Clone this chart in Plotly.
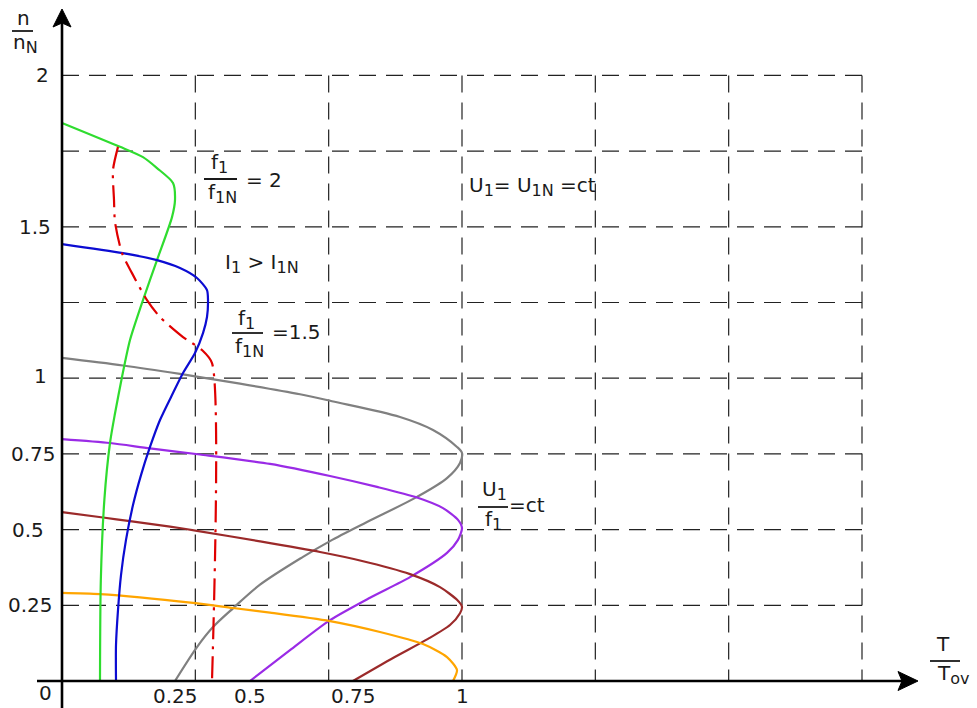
import plotly.graph_objects as go

# ---------------------------------------------------------------------------
# Mechanical characteristics n/nN = f(T/Tov) of an induction motor under
# frequency control (U1/f1 = ct below nominal speed, U1 = U1N above it).
# ---------------------------------------------------------------------------

# f1 = f1N  (grey)
gray_T = [0.0, 0.1525, 0.295, 0.445, 0.595, 0.675, 0.845, 0.9275, 0.9875, 1.0,
          0.995, 0.9625, 0.8875, 0.7625, 0.67, 0.6025, 0.495, 0.4275, 0.3775,
          0.3375, 0.2825]
gray_n = [1.067, 1.042, 1.014, 0.982, 0.947, 0.924, 0.872, 0.829, 0.773, 0.753,
          0.720, 0.670, 0.608, 0.525, 0.462, 0.410, 0.318, 0.240, 0.178,
          0.112, 0.0]

# purple
purple_T = [0.0, 0.12, 0.22, 0.345, 0.52, 0.67, 0.7875, 0.8875, 0.9525, 0.99,
            1.0, 0.99, 0.9625, 0.87, 0.77, 0.67, 0.57, 0.47]
purple_n = [0.799, 0.786, 0.768, 0.748, 0.717, 0.677, 0.641, 0.606, 0.571, 0.532,
            0.505, 0.466, 0.423, 0.343, 0.275, 0.201, 0.102, 0.0]

# brown
brown_T = [0.0, 0.1025, 0.17, 0.27, 0.3375, 0.495, 0.645, 0.745, 0.87, 0.945,
           0.9875, 1.0, 0.995, 0.97, 0.915, 0.8275, 0.7275]
brown_n = [0.558, 0.540, 0.528, 0.510, 0.496, 0.461, 0.426, 0.398, 0.353, 0.310,
           0.268, 0.245, 0.224, 0.185, 0.139, 0.076, 0.0]

# orange
orange_T = [0.0, 0.095, 0.3275, 0.4275, 0.52, 0.67, 0.795, 0.9025, 0.9625,
            0.9875, 0.9775]
orange_n = [0.291, 0.287, 0.258, 0.241, 0.226, 0.198, 0.162, 0.122, 0.079,
            0.036, 0.0]

# f1/f1N = 2  (green)
green_T = [0.0, 0.145, 0.2025, 0.2375, 0.2775, 0.2825, 0.275, 0.2375, 0.2025,
           0.17, 0.15, 0.132, 0.12, 0.106, 0.097, 0.095]
green_n = [1.843, 1.764, 1.730, 1.694, 1.645, 1.589, 1.532, 1.390, 1.258,
           1.126, 1.004, 0.880, 0.786, 0.600, 0.330, 0.0]

# f1/f1N = 1.5  (blue)
blue_T = [0.0, 0.1525, 0.2375, 0.295, 0.3375, 0.3625, 0.365, 0.3625, 0.3525,
          0.3325, 0.3025, 0.2775, 0.245, 0.22, 0.1975, 0.1775, 0.16, 0.1475,
          0.14, 0.135, 0.135]
blue_n = [1.443, 1.413, 1.390, 1.364, 1.331, 1.291, 1.258, 1.202, 1.149,
          1.083, 1.017, 0.951, 0.862, 0.773, 0.680, 0.581, 0.466, 0.350,
          0.234, 0.119, 0.0]

# current limit I1 > I1N  (red dash-dot)
limit_T = [0.14, 0.1275, 0.13, 0.1325, 0.15, 0.175, 0.2125, 0.245, 0.3025,
           0.35, 0.375, 0.375]
limit_n = [1.764, 1.688, 1.589, 1.516, 1.413, 1.347, 1.258, 1.202, 1.136,
           1.093, 1.050, 0.0]

# Tick labels
y_tick_vals = [2, 1.5, 1, 0.75, 0.5, 0.25]
y_tick_text = ["2", "1.5", "1", "0.75", "0.5", "0.25"]
x_tick_text = ["0.25", "0.5", "0.75", "1"]
# dashed grid
grid_x = [1 / 3, 2 / 3, 1.0, 4 / 3, 5 / 3, 2.0]
grid_y = [0.25, 0.5, 0.75, 1.0, 1.25, 1.5, 1.75, 2.0]

# ---------------------------------------------------------------------------
W, H = 977, 708
X0_PX, Y0_PX = 62, 681          # pixel position of the origin
PX_PER_X, PX_PER_Y = 400.0, 302.8


def dx(px):
    return (px - X0_PX) / PX_PER_X


def dy(py):
    return (Y0_PX - py) / PX_PER_Y


FONT = "DejaVu Sans"
TXT = "#1a1a1a"
FS = 20


def sub(s):
    return f"<sub><span style='font-size:{FS - 4}px'>{s}</span></sub>"


fig = go.Figure()

curves = [
    (gray_T, gray_n, "#808080", "solid", 0.9),
    (purple_T, purple_n, "#9a2be6", "solid", 0.7),
    (brown_T, brown_n, "#9b2a2a", "solid", 0.7),
    (orange_T, orange_n, "#ffa500", "solid", 0.7),
    (green_T, green_n, "#2fdc2f", "solid", 0.7),
    (blue_T, blue_n, "#0c0cd2", "solid", 0.7),
    (limit_T, limit_n, "#e00000", "22px,7px,3px,7px", 0.7),
]
for xs, ys, col, dash, sm in curves:
    fig.add_trace(go.Scatter(
        x=xs, y=ys, mode="lines",
        line=dict(color=col, width=2.2, shape="spline", smoothing=sm, dash=dash),
        hoverinfo="skip", showlegend=False))

shapes = []
grid_line = dict(color="#222222", width=1.2, dash="17px,10px")
for gy in grid_y:
    shapes.append(dict(type="line", xref="x", yref="y", x0=0, x1=2.0, y0=gy, y1=gy,
                       line=grid_line, layer="below"))
for gx in grid_x:
    shapes.append(dict(type="line", xref="x", yref="y", x0=gx, x1=gx, y0=2.0, y1=0,
                       line=grid_line, layer="below"))

# axes with arrow heads
axis_line = dict(color="black", width=2.6)
shapes.append(dict(type="line", xref="x", yref="y", x0=dx(37), x1=dx(905),
                   y0=0, y1=0, line=axis_line))
shapes.append(dict(type="line", xref="x", yref="y", x0=0, x1=0,
                   y0=dy(H + 5), y1=dy(22), line=axis_line))


def path(points):
    return "M " + " L ".join(f"{dx(a)},{dy(b)}" for a, b in points) + " Z"


shapes.append(dict(type="path", xref="x", yref="y",
                   path=path([(918, 681), (898, 671.5), (902, 681), (898, 690.5)]),
                   fillcolor="black", line=dict(color="black", width=1)))
shapes.append(dict(type="path", xref="x", yref="y",
                   path=path([(62, 9), (53, 27), (62, 23), (71, 27)]),
                   fillcolor="black", line=dict(color="black", width=1)))


def bar(x1, x2, y):
    shapes.append(dict(type="line", xref="x", yref="y", x0=dx(x1), x1=dx(x2),
                       y0=dy(y), y1=dy(y), line=dict(color=TXT, width=1.8)))


annotations = []


def text(s, x, y, size=FS, anchor="center"):
    annotations.append(dict(text=s, x=dx(x), y=dy(y), xref="x", yref="y",
                            showarrow=False, xanchor=anchor, yanchor="middle",
                            font=dict(family=FONT, size=size, color=TXT)))


# tick labels
y_label_px = [42, 35, 40, 33, 28, 30]
for v, t, lx in zip(y_tick_vals, y_tick_text, y_label_px):
    yy = Y0_PX - v * PX_PER_Y
    text(t, lx, yy - 2 if v == 1 else yy)
x_tick_pos = [gray_T[-1], purple_T[-1], brown_T[-1], 1.0]
for v, t in zip(x_tick_pos, x_tick_text):
    text(t, X0_PX + v * PX_PER_X, 696)
text("0", 45, 693)

# axis titles
text("n", 23, 18)
bar(12, 33, 31)
text("n" + sub("N"), 25, 43)
text("T", 943, 644)
bar(930, 960, 661)
text("T" + sub("ov"), 953, 674)

# curve annotations
text("f" + sub("1"), 219, 163)
bar(204, 237, 179)
text("f" + sub("1N"), 222, 193)
text("= 2", 244, 180, anchor="left")

text("I" + sub("1") + " &gt; I" + sub("1N"), 262, 263)

text("f" + sub("1"), 246, 319)
bar(232, 263, 333)
text("f" + sub("1N"), 249, 347)
text("=1.5", 270, 332, anchor="left")

text("U" + sub("1") + "= U" + sub("1N") + " =ct", 467, 186, anchor="left")

text("U" + sub("1"), 494, 490)
bar(478, 508, 507)
text("f" + sub("1"), 493, 520)
text("=ct", 507, 505, anchor="left")

fig.update_layout(
    width=W, height=H, autosize=False,
    margin=dict(l=0, r=0, t=0, b=0, pad=0),
    paper_bgcolor="white", plot_bgcolor="white",
    xaxis=dict(range=[dx(0), dx(W)], visible=False, fixedrange=True),
    yaxis=dict(range=[dy(H), dy(0)], visible=False, fixedrange=True),
    shapes=shapes, annotations=annotations, showlegend=False,
)

fig.write_html("out.html")
